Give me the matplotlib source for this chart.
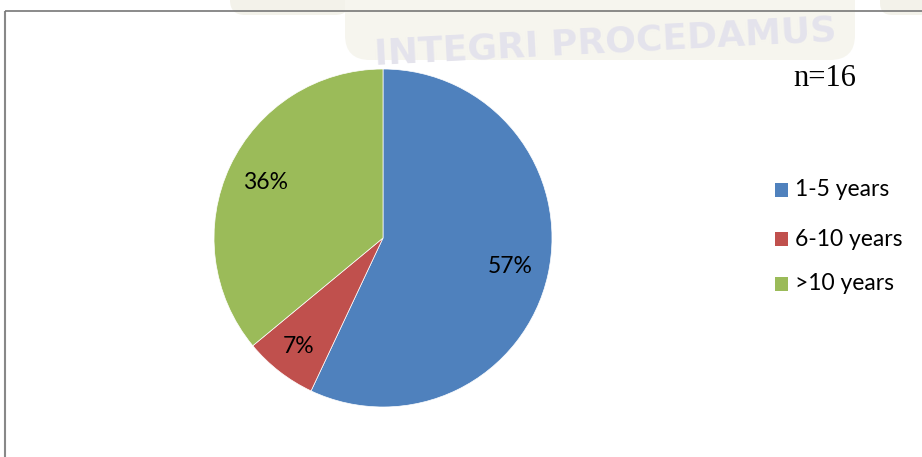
import matplotlib
matplotlib.use("Agg")
import matplotlib.pyplot as plt
from matplotlib.patches import FancyBboxPatch

categories = ["1-5 years", "6-10 years", ">10 years"]
values = [57, 7, 36]
colors = ["#4F81BD", "#C0504D", "#9BBB59"]
n_label = "n=16"
watermark = "INTEGRI PROCEDAMUS"

W, H = 922, 457
fig = plt.figure(figsize=(W / 100, H / 100), dpi=100)
fig.patch.set_facecolor("white")

def fx(x):
    return x / W

def fy(y):
    return 1 - y / H

# faint watermark background
bg = fig.add_axes([0, 0, 1, 1], zorder=0)
bg.set_xlim(0, W)
bg.set_ylim(H, 0)
bg.axis("off")
bg.add_patch(FancyBboxPatch((230, -40), 120, 55, boxstyle="round,pad=0,rounding_size=15",
                            fc="#f3f2ea", ec="none", zorder=1))
bg.add_patch(FancyBboxPatch((345, -40), 510, 100, boxstyle="round,pad=0,rounding_size=25",
                            fc="#f6f5ee", ec="none", zorder=1))
bg.add_patch(FancyBboxPatch((880, -40), 60, 55, boxstyle="round,pad=0,rounding_size=12",
                            fc="#f3f2ea", ec="none", zorder=1))
bg.text(605, 42, watermark, fontsize=26, fontweight="bold", color="#e4e3ec",
        ha="center", va="center", family="DejaVu Sans", rotation=3, zorder=2)

# frame lines
bg.plot([5, 5], [11, H + 5], color="#888888", lw=1.5, zorder=5, solid_capstyle="butt")
bg.plot([5, W + 5], [11, 11], color="#777777", lw=1.2, zorder=5, solid_capstyle="butt")

# pie
cx, cy, r = 383, 238, 169
ax = fig.add_axes([fx(cx - r), fy(cy + r), 2 * r / W, 2 * r / H], zorder=1)
wedges, texts, autotexts = ax.pie(values, colors=colors, startangle=90, counterclock=False,
                                  autopct="%d%%", pctdistance=0.77,
                                  wedgeprops=dict(linewidth=0.5, edgecolor="white"),
                                  textprops=dict(fontsize=16.5, color="black", family="Lato"))
px, py = autotexts[1].get_position()
autotexts[1].set_position((px * 1.06, py * 1.06))
ax.set_xlim(-1, 1)
ax.set_ylim(-1, 1)
ax.set_aspect("equal")
ax.axis("off")

# n label
fig.text(fx(825), fy(78), n_label, fontsize=22, family="Liberation Serif",
         ha="center", va="center")

# legend
leg_y = [190, 239, 284]
for lab, col, y in zip(categories, colors, leg_y):
    fig.add_artist(FancyBboxPatch((fx(775), fy(y + 7)), fx(13), 14 / H,
                                  boxstyle="square,pad=0", fc=col, ec="none",
                                  transform=fig.transFigure))
    fig.text(fx(795), fy(y), lab, fontsize=16.5, family="Lato", ha="left", va="center")

fig.savefig("out.png", dpi=100)
